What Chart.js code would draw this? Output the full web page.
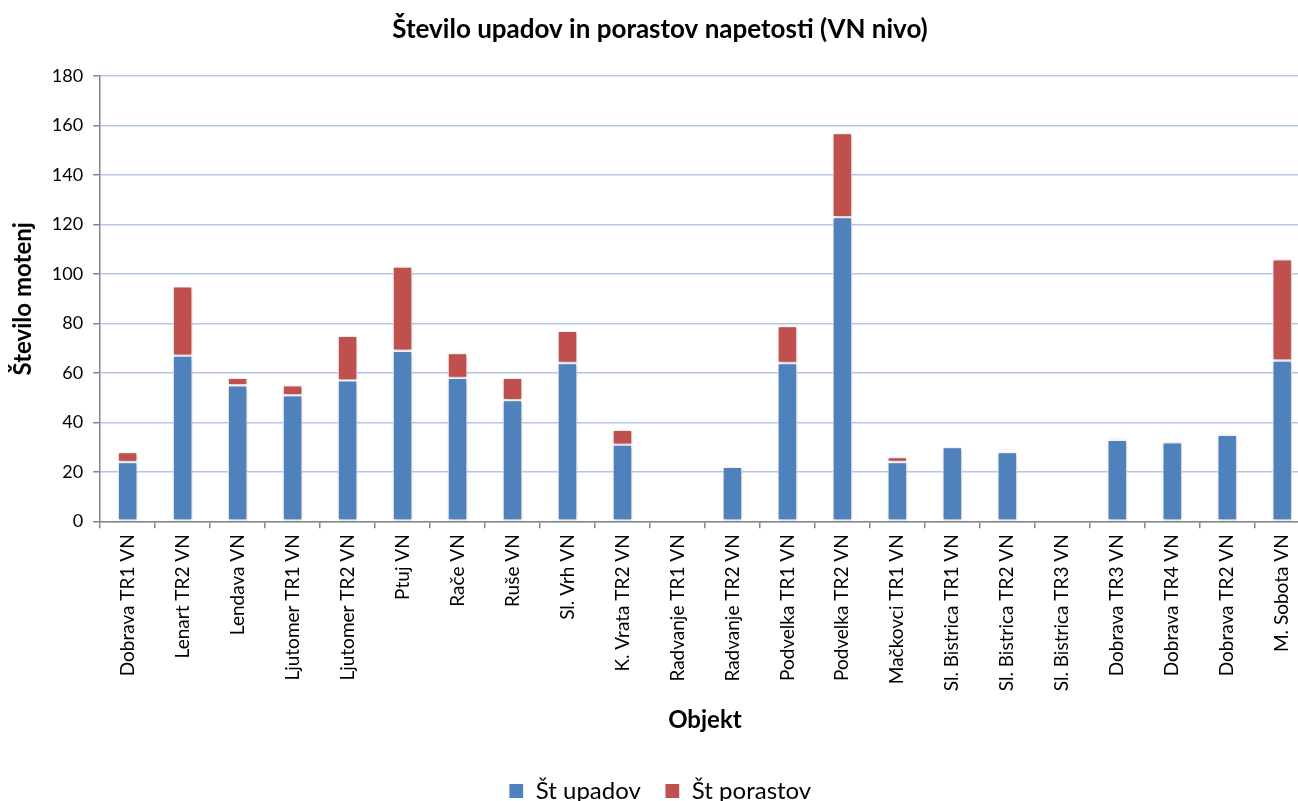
<!DOCTYPE html>
<html>
<head>
<meta charset="utf-8">
<script src="https://cdn.jsdelivr.net/npm/chart.js@4"></script>
<style>
  html,body{margin:0;padding:0;background:#fff;overflow:hidden;}
  #wrap{width:1311px;height:801px;}
</style>
</head>
<body>
<div id="wrap"><canvas id="ch"></canvas></div>
<script>
// objekti (kategorije)
const OBJEKTI = [
  'Dobrava TR1 VN','Lenart TR2 VN','Lendava VN','Ljutomer TR1 VN','Ljutomer TR2 VN',
  'Ptuj VN','Rače VN','Ruše VN','Sl. Vrh VN','K. Vrata TR2 VN','Radvanje TR1 VN',
  'Radvanje TR2 VN','Podvelka TR1 VN','Podvelka TR2 VN','Mačkovci TR1 VN',
  'Sl. Bistrica TR1 VN','Sl. Bistrica TR2 VN','Sl. Bistrica TR3 VN','Dobrava TR3 VN',
  'Dobrava TR4 VN','Dobrava TR2 VN','M. Sobota VN'
];
// odčitano s slike
const UPADI   = [24,67,55,51,57,69,58,49,64,31,0,22,64,123,24,30,28,0,33,32,35,65];
const PORASTI = [ 4,28, 3, 4,18,34,10, 9,13, 6,0, 1,15, 34, 2,0.5,1,0, 1, 1, 1,41];
const Y_TICKS = [0,20,40,60,80,100,120,140,160,180];

const FONT = 'Lato, "Open Sans", sans-serif';
const AXIS_GRAY = '#868686';

// senca stolpcev (kot v Excelu)
const shadowPlugin = {
  id:'barShadow',
  beforeDatasetsDraw(chart){ const c=chart.ctx; c.save();
    c.shadowColor='rgba(0,0,0,0.28)'; c.shadowBlur=4; c.shadowOffsetX=1; c.shadowOffsetY=1; },
  afterDatasetsDraw(chart){ chart.ctx.restore(); }
};

new Chart(document.getElementById('ch'),{
  type:'bar',
  data:{
    labels:OBJEKTI,
    datasets:[
      {label:'Št upadov', data:UPADI, backgroundColor:'#4f81bd', borderColor:'#ffffff', borderWidth:1.2, borderSkipped:false},
      {label:'Št porastov', data:PORASTI, backgroundColor:'#c0504d', borderColor:'#ffffff', borderWidth:1.2, borderSkipped:false}
    ]
  },
  plugins:[shadowPlugin],
  options:{
    responsive:true, maintainAspectRatio:false, animation:false,
    datasets:{bar:{categoryPercentage:1, barPercentage:0.36}},
    layout:{padding:{left:9,right:0,top:0,bottom:-12}},
    plugins:{
      title:{display:true, text:'Število upadov in porastov napetosti (VN nivo)', color:'#000',
        font:{family:FONT, size:26, weight:'bold'}, padding:{top:14,bottom:31}},
      legend:{position:'bottom', labels:{color:'#000', font:{family:FONT, size:24},
        boxWidth:15, boxHeight:15, padding:24}},
      tooltip:{enabled:false}
    },
    scales:{
      x:{stacked:true,
        border:{color:AXIS_GRAY, width:1.5},
        grid:{drawOnChartArea:false, tickLength:7, tickColor:AXIS_GRAY, lineWidth:1.5},
        ticks:{color:'#000', font:{family:FONT, size:19}, minRotation:90, maxRotation:90, autoSkip:false, padding:6},
        title:{display:true, text:'Objekt', color:'#000', font:{family:FONT, size:24, weight:'bold'}, padding:{top:9,bottom:20}}
      },
      y:{stacked:true, min:0, max:180,
        afterBuildTicks(axis){ axis.ticks = Y_TICKS.map(v=>({value:v})); },
        border:{color:AXIS_GRAY, width:1.5},
        grid:{color:'#b3c6e8', lineWidth:1.5, tickLength:7, tickColor:AXIS_GRAY},
        ticks:{color:'#000', font:{family:FONT, size:18}, padding:10},
        title:{display:true, text:'Število motenj', color:'#000', font:{family:FONT, size:24, weight:'bold'}, padding:{top:0,bottom:4}}
      }
    }
  }
});
</script>
</body>
</html>
